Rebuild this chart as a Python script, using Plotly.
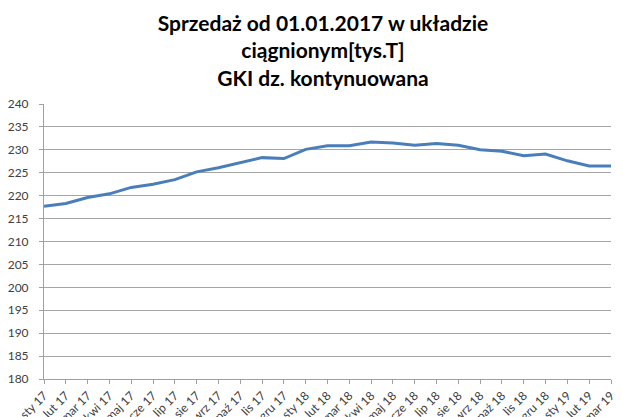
import plotly.graph_objects as go

categories = ["sty 17", "lut 17", "mar 17", "kwi 17", "maj 17", "cze 17", "lip 17", "sie 17",
              "wrz 17", "paź 17", "lis 17", "gru 17", "sty 18", "lut 18", "mar 18", "kwi 18",
              "maj 18", "cze 18", "lip 18", "sie 18", "wrz 18", "paź 18", "lis 18", "gru 18",
              "sty 19", "lut 19", "mar 19"]
values = [217.7, 218.3, 219.6, 220.4, 221.8, 222.5, 223.5, 225.2, 226.1, 227.2, 228.3, 228.1,
          230.1, 230.9, 230.9, 231.7, 231.5, 231.0, 231.4, 231.0, 230.0, 229.7, 228.7, 229.1,
          227.6, 226.5, 226.5]
y_ticks = list(range(180, 241, 5))

# page body has an 8px default margin, so the figure is sized to fit the window
W, H = 615, 409

fig = go.Figure()
fig.add_trace(go.Scatter(x=categories, y=values, mode="lines",
                         line=dict(color="#4a7ebb", width=3)))

fig.update_layout(
    width=W, height=H,
    margin=dict(l=36, r=12, t=96, b=38, autoexpand=False),
    paper_bgcolor="white", plot_bgcolor="white",
    showlegend=False,
    title=dict(text="Sprzedaż od 01.01.2017 w układzie<br>ciągnionym[tys.T]<br>GKI dz. kontynuowana",
               x=315/W, xanchor="center", xref="container",
               y=1 - 23/H, yanchor="top", yref="container",
               font=dict(family="Lato", size=21, color="black", weight="bold")),
    font=dict(family="Lato", size=12, color="#404040"),
)
fig.update_xaxes(
    type="category", range=[0, len(categories) - 1],
    tickangle=-45, showgrid=False, automargin=False,
    showline=True, linecolor="#a0a0a0", linewidth=1,
    ticks="outside", ticklen=4, tickcolor="#a0a0a0",
    tickfont=dict(family="Lato", size=12, color="#404040"),
)
fig.update_yaxes(
    range=[180, 240], tickvals=y_ticks, automargin=False,
    showgrid=True, gridcolor="#a6a6a6", gridwidth=1,
    showline=True, linecolor="#a0a0a0", linewidth=1,
    ticks="outside", ticklen=4, tickcolor="#a0a0a0", ticklabelstandoff=8,
    tickfont=dict(family="Lato", size=12, color="#404040"),
    zeroline=False,
)
fig.write_html("out.html")
